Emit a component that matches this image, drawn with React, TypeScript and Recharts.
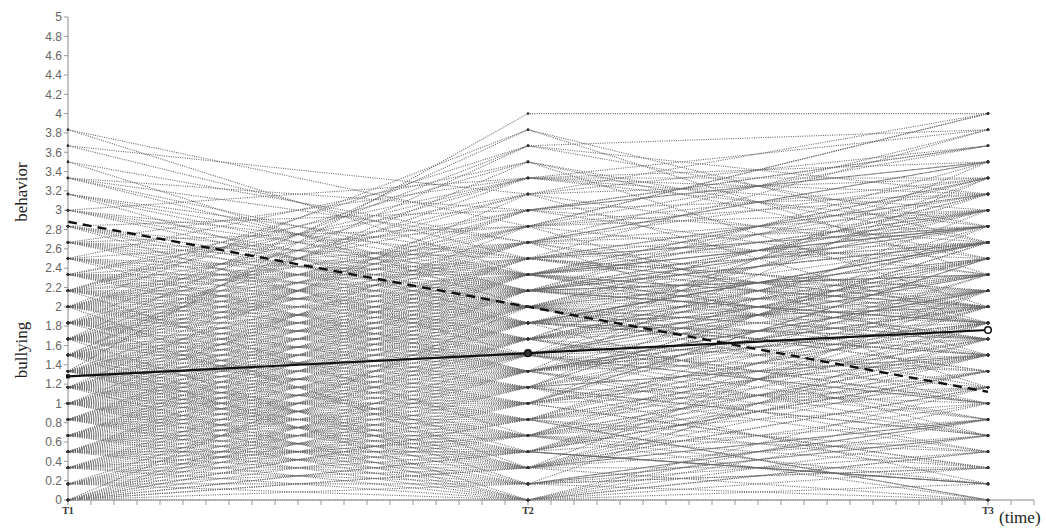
import { LineChart, Line, XAxis, YAxis } from 'recharts'

// time points (x position on the time axis)
const waves = ['T1', 'T2', 'T3']
const wavePos = [0, 1, 2]

// individual trajectories, item sum scores (6 items, 0-24) at T1, T2, T3
const trajectories: number[][] = [
  [0, 0, 0], [0, 3, 5], [0, 5, 2], [0, 7, 9], [0, 2, 8], [0, 9, 6], [0, 4, 0], [0, 12, 10], [0, 6, 14], [0, 1, 3], [0, 8, 4],
  [1, 0, 2], [1, 4, 7], [1, 6, 11], [1, 10, 5], [1, 3, 1], [1, 8, 13], [1, 2, 6],
  [2, 0, 4], [2, 5, 9], [2, 7, 3], [2, 11, 12], [2, 3, 8], [2, 9, 15], [2, 1, 0], [2, 6, 10],
  [3, 1, 5], [3, 6, 2], [3, 8, 11], [3, 4, 9], [3, 12, 7], [3, 2, 13], [3, 10, 16], [3, 5, 0], [3, 7, 6],
  [4, 0, 6], [4, 5, 10], [4, 9, 8], [4, 3, 12], [4, 7, 1], [4, 13, 14], [4, 6, 17], [4, 11, 4], [4, 2, 9],
  [5, 2, 7], [5, 8, 12], [5, 4, 3], [5, 10, 15], [5, 6, 9], [5, 15, 23], [5, 1, 11], [5, 12, 6], [5, 7, 18],
  [6, 3, 8], [6, 9, 13], [6, 5, 0], [6, 11, 10], [6, 7, 16], [6, 17, 24], [6, 0, 5], [6, 13, 11], [6, 8, 20],
  [7, 4, 9], [7, 10, 14], [7, 6, 2], [7, 19, 15], [7, 8, 12], [7, 12, 19], [7, 2, 7], [7, 14, 10], [7, 9, 17],
  [8, 24, 24], [8, 5, 10], [8, 11, 16], [8, 7, 4], [8, 13, 12], [8, 9, 21], [8, 3, 8], [8, 15, 13], [8, 10, 6], [8, 6, 15],
  [9, 21, 12], [9, 6, 11], [9, 12, 18], [9, 8, 3], [9, 14, 9], [9, 18, 22], [9, 4, 13], [9, 10, 16], [9, 0, 7],
  [10, 23, 14], [10, 7, 12], [10, 13, 20], [10, 9, 5], [10, 15, 17], [10, 11, 9], [10, 5, 14], [10, 16, 11],
  [11, 22, 17], [11, 8, 13], [11, 14, 10], [11, 10, 19], [11, 16, 7], [11, 6, 15], [11, 12, 12],
  [12, 20, 20], [12, 9, 14], [12, 15, 11], [12, 11, 18], [12, 17, 9], [12, 7, 16], [12, 13, 21],
  [13, 22, 23], [13, 10, 15], [13, 16, 12], [13, 12, 19], [13, 8, 10], [13, 18, 14],
  [14, 9, 6], [14, 16, 21], [14, 11, 16], [14, 13, 13], [14, 19, 11],
  [15, 8, 12], [15, 13, 17], [15, 10, 20], [15, 17, 14],
  [16, 10, 13], [16, 17, 24], [16, 12, 9], [16, 14, 18],
  [17, 9, 15], [17, 14, 20], [17, 11, 12],
  [18, 12, 8], [18, 20, 23], [18, 15, 16],
  [19, 11, 14], [19, 15, 19], [19, 13, 11],
  [20, 13, 10], [20, 18, 22], [20, 16, 15],
  [21, 12, 16], [21, 16, 21],
  [22, 15, 12], [22, 19, 24],
  [23, 17, 20], [23, 14, 18],
  [2, 4, 6], [2, 8, 5], [3, 3, 10], [3, 9, 4], [4, 4, 8], [4, 8, 11], [4, 10, 6], [5, 3, 9], [5, 5, 13], [5, 9, 7],
  [5, 11, 10], [6, 4, 11], [6, 6, 7], [6, 10, 12], [6, 12, 8], [6, 2, 10], [7, 5, 8], [7, 7, 13], [7, 11, 9], [7, 3, 11],
  [7, 13, 16], [8, 4, 12], [8, 8, 9], [8, 12, 14], [8, 14, 11], [8, 2, 5], [9, 5, 12], [9, 7, 9], [9, 11, 13], [9, 13, 17],
  [9, 9, 10], [10, 6, 9], [10, 8, 15], [10, 10, 11], [10, 12, 13], [10, 14, 16], [11, 7, 11], [11, 9, 14], [11, 11, 9], [11, 13, 16],
  [11, 15, 13], [12, 8, 11], [12, 10, 13], [12, 12, 15], [12, 14, 12], [12, 16, 18], [13, 9, 12], [13, 11, 16], [13, 13, 11], [13, 15, 17],
  [14, 10, 14], [14, 12, 11], [14, 14, 17], [14, 8, 13], [15, 11, 15], [15, 12, 10], [15, 14, 19], [16, 11, 16], [16, 13, 14], [16, 15, 12],
  [17, 12, 17], [17, 13, 14], [18, 13, 18], [18, 14, 12], [19, 14, 16], [20, 14, 17], [3, 0, 3], [4, 1, 2], [5, 0, 1], [6, 1, 4],
  [7, 0, 3], [8, 1, 2], [9, 2, 0], [10, 1, 4], [11, 3, 1], [12, 2, 5], [13, 4, 2], [1, 5, 3], [2, 2, 2], [3, 3, 1],
  [0, 3, 1], [0, 2, 4], [1, 1, 5], [2, 4, 1], [1, 7, 4], [0, 5, 7], [2, 10, 8], [3, 11, 14], [4, 12, 15], [5, 13, 16],
  [6, 14, 13], [7, 15, 18], [8, 16, 17], [9, 17, 19], [10, 18, 21], [11, 17, 18], [12, 18, 16], [6, 15, 19], [7, 16, 20], [5, 14, 17],
  [4, 14, 20], [3, 13, 18], [9, 16, 23], [10, 17, 22], [8, 18, 19], [11, 19, 20], [12, 19, 22], [13, 20, 21], [14, 20, 18], [15, 21, 16],
  [16, 20, 19], [17, 18, 21], [10, 20, 17], [9, 22, 19], [13, 21, 15], [12, 23, 16]
]
const itemCount = 6

// group means
const meanSolid = [1.28, 1.52, 1.76]
const meanDashed = [2.88, 2.0, 1.12]

const xTicks = [
  0, 0.05, 0.1, 0.15, 0.2, 0.25, 0.3, 0.35, 0.4, 0.45, 0.5, 0.55, 0.6, 0.65, 0.7, 0.75, 0.8, 0.85, 0.9, 0.95,
  1, 1.05, 1.1, 1.15, 1.2, 1.25, 1.3, 1.35, 1.4, 1.45, 1.5, 1.55, 1.6, 1.65, 1.7, 1.75, 1.8, 1.85, 1.9, 1.95,
  2, 2.05, 2.1
]
const yTicks = [0, 0.2, 0.4, 0.6, 0.8, 1, 1.2, 1.4, 1.6, 1.8, 2, 2.2, 2.4, 2.6, 2.8, 3, 3.2, 3.4, 3.6, 3.8, 4, 4.2, 4.4, 4.6, 4.8, 5]

const toPoints = (vals: number[]) => vals.map((v, i) => ({ x: wavePos[i], y: v }))

const serif = '"Liberation Serif", "DejaVu Serif", serif'
const sans = '"Liberation Sans", Arial, sans-serif'

function YTitle() {
  return (
    <g fontFamily={serif} fontSize={17} fill="#222">
      <text transform="translate(27,192) rotate(-90)" textAnchor="middle">behavior</text>
      <text transform="translate(27,350) rotate(-90)" textAnchor="middle">bullying</text>
    </g>
  )
}

function MeanDot(p: any) {
  const { cx, cy, index } = p
  if (index === 0) return <rect key={index} x={cx - 2} y={cy - 2} width={4} height={4} fill="#111" />
  return (
    <circle
      key={index}
      cx={cx}
      cy={cy}
      r={3.3}
      fill={index === 1 ? '#333' : '#fff'}
      stroke="#111"
      strokeWidth={1.5}
    />
  )
}

export default function App() {
  return (
    <div style={{ width: 1046, height: 531, position: 'relative', background: '#fff' }}>
      <style>{'body{margin:0}'}</style>
      <LineChart width={1046} height={531} margin={{ top: 17, right: 12, left: 0, bottom: 0 }}>
        <XAxis
          type="number"
          dataKey="x"
          domain={[0, 2.1]}
          ticks={xTicks}
          interval={0}
          height={31}
          tickSize={5}
          stroke="#888"
          tickLine={{ stroke: '#999' }}
          tick={{ fontFamily: serif, fontSize: 10, fontWeight: 'bold', fill: '#333' }}
          tickFormatter={(v: number) => {
            const i = wavePos.indexOf(v)
            return i >= 0 ? waves[i] : ''
          }}
          allowDuplicatedCategory={false}
        />
        <YAxis
          type="number"
          dataKey="y"
          domain={[0, 5]}
          ticks={yTicks}
          interval={0}
          width={68}
          tickSize={4}
          stroke="#888"
          tickLine={{ stroke: '#999' }}
          tick={{ fontFamily: sans, fontSize: 12, fill: '#666' }}
          label={{ content: () => <YTitle /> }}
        />
        {trajectories.map((t, i) => (
          <Line
            key={i}
            data={toPoints(t.map((s) => s / itemCount))}
            dataKey="y"
            type="linear"
            stroke="#666"
            strokeWidth={1.1}
            strokeDasharray="1 1.3"
            dot={{ r: 1.3, fill: '#333', stroke: 'none' }}
            activeDot={false}
            isAnimationActive={false}
          />
        ))}
        <Line
          data={toPoints(meanDashed)}
          dataKey="y"
          type="linear"
          stroke="#111"
          strokeWidth={2.4}
          strokeDasharray="9 6"
          dot={false}
          activeDot={false}
          isAnimationActive={false}
        />
        <Line
          data={toPoints(meanSolid)}
          dataKey="y"
          type="linear"
          stroke="#111"
          strokeWidth={2.2}
          dot={MeanDot}
          activeDot={false}
          isAnimationActive={false}
        />
      </LineChart>
      <div style={{ position: 'absolute', left: 999, top: 508, fontFamily: serif, fontSize: 17, color: '#222' }}>
        (time)
      </div>
    </div>
  )
}
